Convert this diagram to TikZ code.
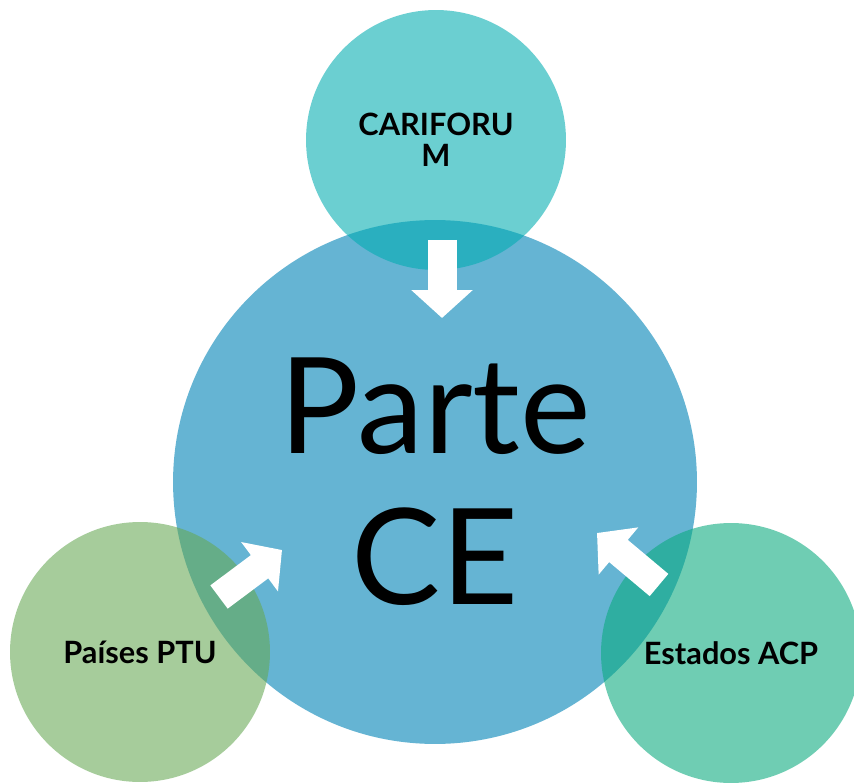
\documentclass[tikz,border=0pt]{standalone}
\usepackage{fontspec}
\setmainfont{Lato}
\usetikzlibrary{arrows.meta}

\definecolor{parteblue}{RGB}{101,180,211}
\definecolor{cariteal}{RGB}{0,173,177}
\definecolor{ptugreen}{RGB}{102,168,83}
\definecolor{acpgreen}{RGB}{8,170,125}

\tikzset{
  small disc/.style={circle, minimum size=5.2cm, inner sep=0pt, fill opacity=0.58, text opacity=1, align=center, font=\bfseries\fontsize{17.5}{17.5}\selectfont},
  block arrow/.style={white, line width=0.58cm, -{Triangle[length=0.56cm, width=1.2cm]}}
}

\begin{document}
\begin{tikzpicture}[x=0.02cm, y=-0.02cm]
        \clip (0, 0) rectangle (854, 783);
        \fill[white] (0, 0) rectangle (854, 783);
        % centre circle
        \node[circle, minimum size=10.48cm, inner sep=0pt, fill=parteblue, align=center, font=\fontsize{76}{86}\selectfont] (parte) at (435, 482) {Parte\\CE};
        % outer circles
        \node[small disc, fill=cariteal] (cari) at (436, 140) {CARIFORU\\M};
        \node[small disc, fill=ptugreen] (ptu) at (140, 652) {Países PTU};
        \node[small disc, fill=acpgreen] (acp) at (731, 653) {Estados ACP};
        % arrows
        \coordinate (cariA) at (442, 240);
        \coordinate (cariB) at (442, 318);
        \coordinate (ptuA) at (219, 597);
        \coordinate (ptuB) at (282, 550);
        \coordinate (acpA) at (659, 585);
        \coordinate (acpB) at (597, 533);
        \draw[block arrow] (cariA) -- (cariB);
        \draw[block arrow] (ptuA) -- (ptuB);
        \draw[block arrow] (acpA) -- (acpB);
    \end{tikzpicture}
\end{document}
